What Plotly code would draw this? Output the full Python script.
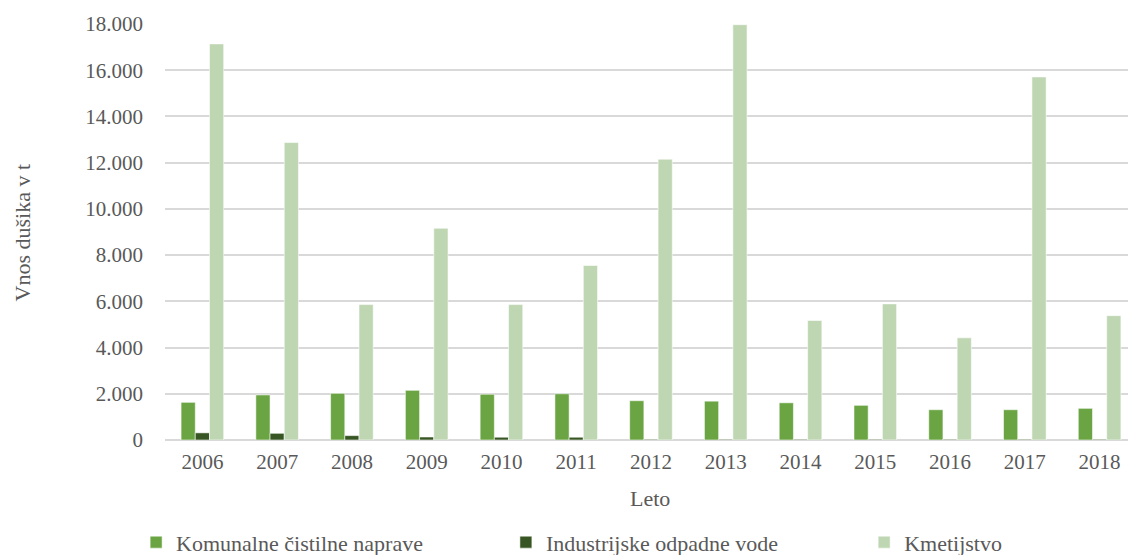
import plotly.graph_objects as go

# Letni vnos dušika po virih (t)
years = ["2006", "2007", "2008", "2009", "2010", "2011", "2012",
         "2013", "2014", "2015", "2016", "2017", "2018"]
komunalne = [1630, 1950, 2020, 2150, 1980, 2000, 1700,
             1680, 1610, 1500, 1310, 1310, 1370]
industrijske = [310, 290, 190, 130, 120, 120, 30,
                30, 30, 30, 30, 30, 30]
kmetijstvo = [17140, 12870, 5860, 9160, 5860, 7550, 12150,
              17970, 5170, 5890, 4420, 15710, 5380]

series_names = ["Komunalne čistilne naprave", "Industrijske odpadne vode", "Kmetijstvo"]
series_values = [komunalne, industrijske, kmetijstvo]
series_colors = ["#6aa443", "#375623", "#bfd6b3"]
legend_ids = ["legend", "legend2", "legend3"]
legend_x = [-0.030, 0.354, 0.726]

FONT = "Liberation Serif, Times New Roman, serif"
TEXT_COLOR = "#595959"
FS = 21

fig = go.Figure()
for name, vals, col, lid in zip(series_names, series_values, series_colors, legend_ids):
    fig.add_trace(go.Bar(
        x=years, y=vals, name=name, legend=lid,
        marker=dict(color=col, line=dict(color="rgba(255,255,255,0.55)", width=1)),
    ))

legend_style = dict(
    orientation="h", xanchor="left", y=-0.246, yanchor="middle",
    font=dict(family=FONT, size=22, color=TEXT_COLOR),
    bgcolor="rgba(0,0,0,0)", itemwidth=30,
)

fig.update_layout(
    width=1128, height=555,
    margin=dict(l=165, r=0, t=24, b=115, autoexpand=False),
    paper_bgcolor="white", plot_bgcolor="white",
    barmode="group", bargap=0.43, bargroupgap=0,
    separators=",.",
    font=dict(family=FONT, size=FS, color=TEXT_COLOR),
    showlegend=True,
    legend=dict(x=legend_x[0], **legend_style),
    legend2=dict(x=legend_x[1], **legend_style),
    legend3=dict(x=legend_x[2], **legend_style),
    xaxis=dict(
        type="category", range=[-0.5, 12.38],
        showgrid=False, showline=False, ticks="",
        tickfont=dict(family=FONT, size=FS, color=TEXT_COLOR),
        ticklabelstandoff=7,
    ),
    yaxis=dict(
        range=[0, 18000], dtick=2000, tickformat=",d",
        showgrid=True, gridcolor="#d9d9d9", gridwidth=1.5,
        zeroline=True, zerolinecolor="#d9d9d9", zerolinewidth=2,
        showline=False, ticks="",
        tickfont=dict(family=FONT, size=FS, color=TEXT_COLOR),
        ticklabelstandoff=21,
    ),
    annotations=[
        dict(text="Leto", xref="paper", yref="paper", x=0.504, y=-0.105,
             xanchor="center", yanchor="top", showarrow=False,
             font=dict(family=FONT, size=22, color=TEXT_COLOR)),
        dict(text="Vnos dušika v t", xref="paper", yref="paper", x=-0.148, y=0.5,
             xanchor="center", yanchor="middle", textangle=-90, showarrow=False,
             font=dict(family=FONT, size=22, color=TEXT_COLOR)),
    ],
)

fig.write_html("out.html")
